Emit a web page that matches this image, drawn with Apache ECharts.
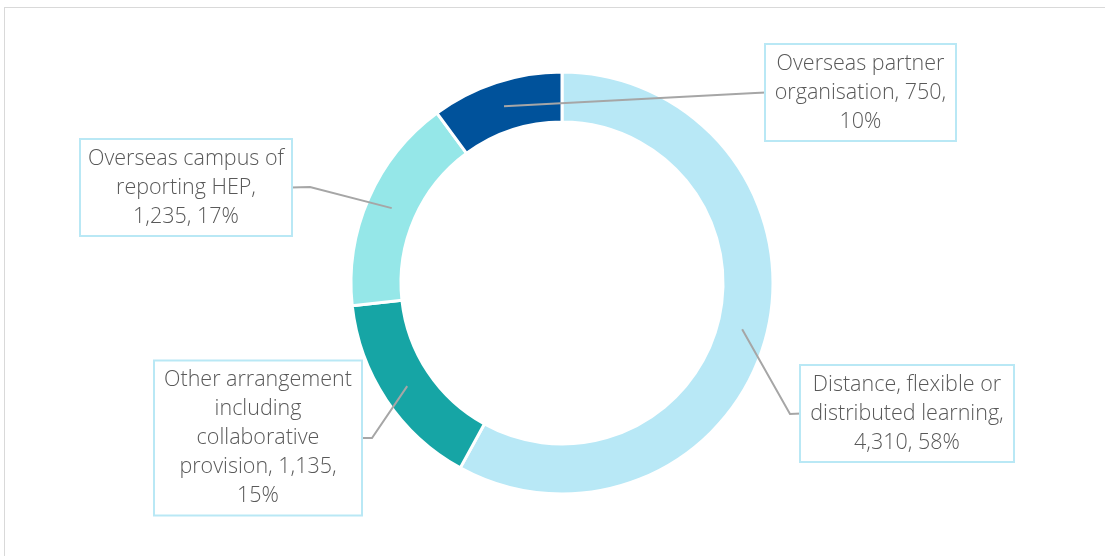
<!DOCTYPE html>
<html><head><meta charset="utf-8">
<script src="https://cdn.jsdelivr.net/npm/echarts@6/dist/echarts.min.js"></script>
<style>
html,body{margin:0;padding:0;background:#fff;overflow:hidden}
#c{position:absolute;left:0;top:0;width:1105px;height:556px}
#frame{position:absolute;left:4px;top:7px;width:1120px;height:570px;border:1px solid #D9D9D9;box-sizing:border-box;pointer-events:none}
</style></head>
<body>
<div id="c"></div><div id="frame"></div>
<script>
const categories = ['Distance, flexible or distributed learning', 'Other arrangement including collaborative provision', 'Overseas campus of reporting HEP', 'Overseas partner organisation'];
const values = [4310, 1135, 1235, 750];
const percents = ['58%', '15%', '17%', '10%'];
const labelTexts = [
  'Distance, flexible or\ndistributed learning,\n4,310, 58%',
  'Other arrangement\nincluding\ncollaborative\nprovision, 1,135,\n15%',
  'Overseas campus of\nreporting HEP,\n1,235, 17%',
  'Overseas partner\norganisation, 750,\n10%'
];
const colors = ['#B8E8F6', '#16A5A5', '#95E7E8', '#00529B'];

// layout of label boxes (centre x, centre y, width) and side of leader line
const boxes = [
  {cx: 907, cy: 413.5, w: 212, side: 'left'},
  {cx: 258, cy: 438, w: 206, side: 'right'},
  {cx: 186, cy: 187.5, w: 210, side: 'right'},
  {cx: 860.5, cy: 92.5, w: 189, side: 'left'}
];
const elbows = [[790, 414], [372, 438], [310, 187], [755, 93]];

const chart = echarts.init(document.getElementById('c'), null, {renderer: 'canvas'});
const font = '"Open Sans", Lato, sans-serif';

const ringData = categories.map((n, i) => ({name: n, value: values[i], itemStyle: {color: colors[i]}}));
const labelData = categories.map((n, i) => ({
  name: n, value: values[i],
  label: {width: boxes[i].w - 4}
}));

chart.setOption({
  animation: false,
  series: [
    {
      type: 'pie',
      center: [562, 283],
      radius: [161, 211],
      startAngle: 90,
      clockwise: true,
      silent: true,
      label: {show: false},
      labelLine: {show: false},
      itemStyle: {borderColor: '#ffffff', borderWidth: 3},
      data: ringData
    },
    {
      type: 'pie',
      center: [562, 283],
      radius: [0, 186],
      startAngle: 90,
      clockwise: true,
      silent: true,
      z: 5,
      itemStyle: {color: 'rgba(0,0,0,0)'},
      label: {
        show: true,
        formatter: p => labelTexts[p.dataIndex],
        fontFamily: font,
        fontWeight: 300,
        fontSize: 21.5,
        lineHeight: 29,
        color: '#595959',
        align: 'center',
        backgroundColor: '#ffffff',
        borderColor: '#B9E8F5',
        borderWidth: 2,
        padding: [4, 2]
      },
      labelLine: {show: true, lineStyle: {color: '#A6A6A6', width: 2}, length: 10, length2: 10},
      labelLayout: function (p) {
        const b = boxes[p.dataIndex];
        const start = p.labelLinePoints ? p.labelLinePoints[0] : elbows[p.dataIndex];
        const endX = b.side === 'left' ? b.cx - b.w / 2 : b.cx + b.w / 2;
        return {
          x: b.cx, y: b.cy, align: 'center', verticalAlign: 'middle',
          labelLinePoints: [start, elbows[p.dataIndex], [endX, b.cy]]
        };
      },
      data: labelData
    }
  ]
});
</script>
</body></html>
